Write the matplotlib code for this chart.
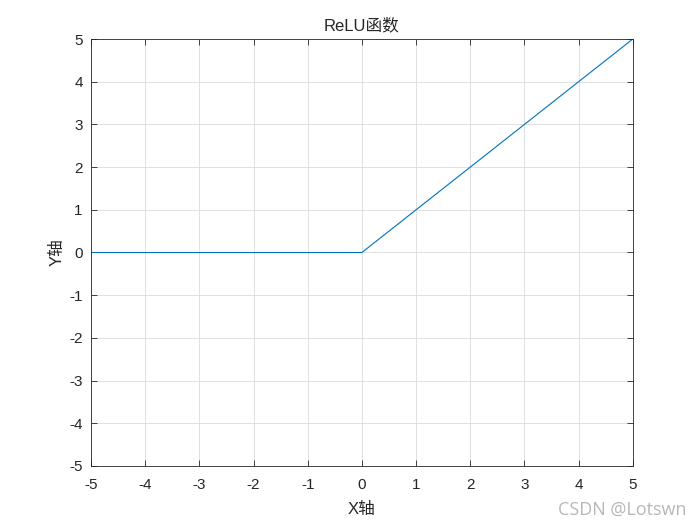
import numpy as np
import matplotlib.pyplot as plt

plt.rcParams['font.family'] = ['Liberation Sans', 'Noto Sans CJK SC', 'DejaVu Sans']
plt.rcParams['axes.unicode_minus'] = False

# --- ReLU data (breakpoints) ---
x = [-5, 0, 5]
y = [0, 0, 5]
ticks = list(range(-5, 6))

fig = plt.figure(figsize=(7, 5.25), dpi=100)
ax = fig.add_axes([0.13, 0.1124, 0.774, 0.8133])

ax.plot(x, y, color='#0072BD', linewidth=0.8)
ax.set_xlim(-5, 5)
ax.set_ylim(-5, 5)
ax.set_xticks(ticks)
ax.set_yticks(ticks)
ax.tick_params(direction='in', top=True, right=True, labelsize=11,
               length=4, width=0.6, colors='#262626')
ax.tick_params(axis='x', pad=8.5)
ax.tick_params(axis='y', pad=6)
ax.grid(True, color='#dcdcdc', linewidth=0.6)
ax.set_axisbelow(True)
for s in ax.spines.values():
    s.set_linewidth(0.6)
    s.set_color('#262626')

ax.set_title('ReLU函数', fontsize=12, color='#262626', pad=6)
ax.set_xlabel('X轴', fontsize=12, color='#262626', labelpad=7)
ax.set_ylabel('Y轴', fontsize=12, color='#262626', labelpad=3)

fig.text(0.98, 0.012, 'CSDN @Lotswn', ha='right', va='bottom',
         fontsize=13, color='#b8b8b8', family='Open Sans')

fig.savefig('out.png', dpi=100)
